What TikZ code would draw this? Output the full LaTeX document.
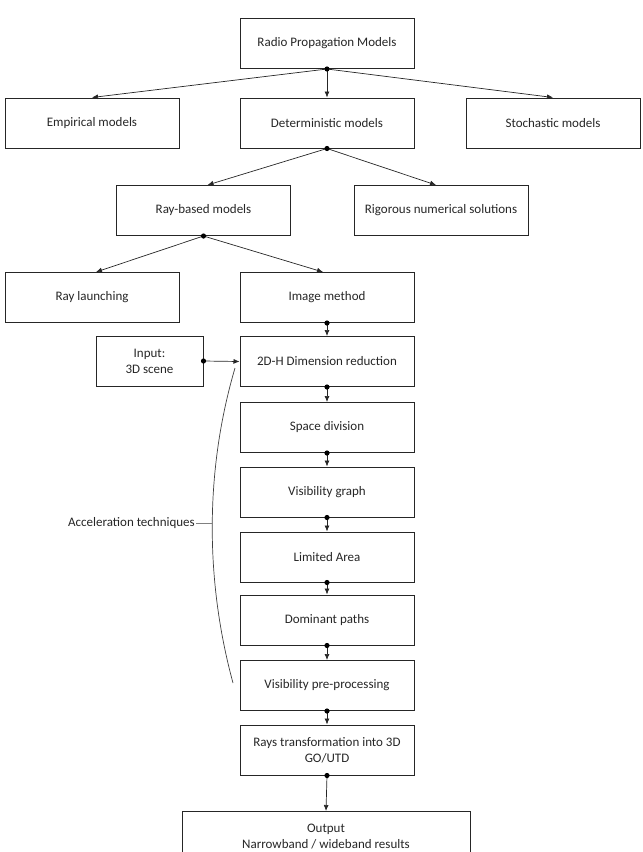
\documentclass[tikz,border=0pt]{standalone}
\usepackage{fontspec}
\setmainfont{Carlito}
\usetikzlibrary{arrows.meta,calc}
\begin{document}
\begin{tikzpicture}[x=1pt,y=-1pt,
  box/.style={draw=black!85, line width=1pt, minimum width=174pt, minimum height=50pt,
    inner sep=0pt, align=center, font=\fontsize{13}{16}\selectfont, text=black!85},
  conn/.style={draw=black!85, line width=0.7pt, -{Latex[length=6pt,width=5pt]}},
  dotc/.style={fill=black},
  brace/.style={draw=black!75, line width=0.7pt}
]
\useasboundingbox (0,0) rectangle (643,852);
\clip (0,0) rectangle (643,852);

\node[box] (radio) at (327,43.5) {Radio Propagation Models};
\node[box] (emp) at (92,123) {Empirical models};
\node[box] (det) at (327,123) {Deterministic models};
\node[box] (sto) at (553,123) {Stochastic models};
\node[box] (ray) at (203.5,210.5) {Ray-based models};
\node[box] (rig) at (441,210.5) {Rigorous numerical solutions};
\node[box] (rl) at (92,297.5) {Ray launching};
\node[box] (im) at (327,297.5) {Image method};
\node[box] (dim) at (327,361.5) {2D-H Dimension reduction};
\node[box, minimum width=107pt] (input) at (149.5,361) {Input:\\3D scene};
\node[box] (sd) at (327,427.5) {Space division};
\node[box] (vg) at (327,492) {Visibility graph};
\node[box] (la) at (327,557) {Limited Area};
\node[box] (dp) at (327,620) {Dominant paths};
\node[box] (vp) at (327,685.5) {Visibility pre-processing};
\node[box] (rt) at (327,750) {Rays transformation into 3D\\GO/UTD};
\node[box, minimum width=288pt, anchor=north] (out) at (326,811) {Output\\Narrowband / wideband results};

\node[font=\fontsize{13}{16}\selectfont, text=black!85, anchor=east, inner sep=1pt] (acc) at (196,523) {Acceleration techniques};

% connectors
\draw[conn] (radio.south) -- (emp.north);
\draw[conn] (radio.south) -- (det.north);
\draw[conn] (radio.south) -- (sto.north);
\fill[dotc] (radio.south) circle (2.6pt);

\draw[conn] (det.south) -- ($(ray.north)+(4,0)$);
\draw[conn] (det.south) -- ($(rig.north)+(-5,0)$);
\fill[dotc] (det.south) circle (2.6pt);

\draw[conn] (ray.south) -- ($(rl.north)+(4,0)$);
\draw[conn] (ray.south) -- ($(im.north)+(-4,0)$);
\fill[dotc] (ray.south) circle (2.6pt);

\foreach \a/\b in {im/dim, dim/sd, sd/vg, vg/la, la/dp, dp/vp, vp/rt, rt/out}{
  \draw[conn] (\a.south) -- (\b.north);
  \fill[dotc] (\a.south) circle (2.6pt);
}

\draw[conn] (input.east) -- (dim.west);
\fill[dotc] (input.east) circle (2.6pt);

% brace
\coordinate (btop) at (235,368);
\coordinate (bbot) at (233,683);
\coordinate (bmid) at (213,523);
\draw[brace] (btop) .. controls (205,470) and (205,580) .. (bbot);
\draw[draw=black!50, line width=0.8pt] (acc.east) -- (bmid);
\end{tikzpicture}
\end{document}
